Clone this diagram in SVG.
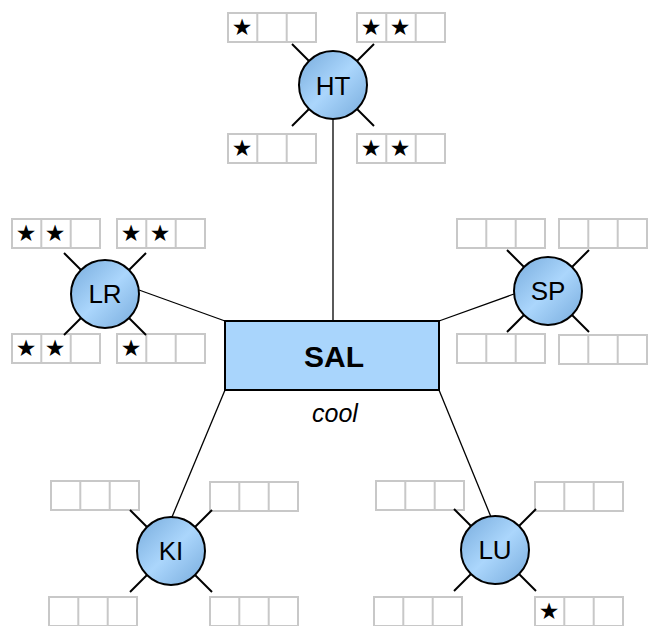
<svg xmlns="http://www.w3.org/2000/svg" xmlns:xlink="http://www.w3.org/1999/xlink" width="652" height="626" viewBox="0 0 652 626">
<style>
.box{fill:#fff;stroke:#c8c8c8;stroke-width:2}
.div{stroke:#c8c8c8;stroke-width:2}
.star{font-family:"DejaVu Sans",sans-serif;font-size:23px;fill:#000;text-anchor:middle}
.node{fill:url(#ng);stroke:#000;stroke-width:2}
.spoke{stroke:#000;stroke-width:2}
.lbl{font-family:"Liberation Sans",Arial,sans-serif;font-size:26px;fill:#000;text-anchor:middle}
.conn{stroke:#000;stroke-width:1.3;fill:none}
</style>
<defs>
<linearGradient id="ng" x1="0" y1="0" x2="1" y2="1">
<stop offset="0" stop-color="#77abdc"/>
<stop offset="0.5" stop-color="#abd6fc"/>
<stop offset="1" stop-color="#77abdc"/>
</linearGradient>
<g id="spk">
<line class="spoke" x1="-24" y1="-24" x2="-41" y2="-41"/>
<line class="spoke" x1="24" y1="-24" x2="41" y2="-41"/>
<line class="spoke" x1="-24" y1="24" x2="-41" y2="41"/>
<line class="spoke" x1="24" y1="24" x2="41" y2="41"/>
</g>
<g id="cells">
<rect class="box" x="0" y="0" width="88" height="29"/>
<line class="div" x1="29.3" y1="0" x2="29.3" y2="29"/>
<line class="div" x1="58.7" y1="0" x2="58.7" y2="29"/>
</g>
</defs>
<rect width="652" height="626" fill="#fff"/>
<g id="connectors">
<line class="conn" x1="333" y1="118" x2="333" y2="321"/>
<line class="conn" x1="139" y1="290" x2="225" y2="321"/>
<line class="conn" x1="514" y1="294" x2="439" y2="321"/>
<line class="conn" x1="172" y1="517" x2="225" y2="390"/>
<line class="conn" x1="491" y1="517" x2="439" y2="390"/>
</g>
<g id="SAL">
<rect x="225" y="321" width="214" height="69" fill="#a9d5fc" stroke="#000" stroke-width="2"/>
<text x="334" y="367" font-family="Liberation Sans,Arial,sans-serif" font-size="30" font-weight="bold" text-anchor="middle">SAL</text>
<text x="335" y="422" font-family="Liberation Sans,Arial,sans-serif" font-size="25" font-style="italic" text-anchor="middle">cool</text>
</g>
<g id="HT">
<use xlink:href="#cells" x="228" y="13"/><text class="star" x="242" y="35">★</text>
<use xlink:href="#cells" x="357" y="13"/><text class="star" x="371" y="35">★</text><text class="star" x="400" y="35">★</text>
<use xlink:href="#cells" x="228" y="134"/><text class="star" x="242" y="156">★</text>
<use xlink:href="#cells" x="357" y="134"/><text class="star" x="371" y="156">★</text><text class="star" x="400" y="156">★</text>
<use xlink:href="#spk" x="333" y="85"/>
<circle class="node" cx="333" cy="85" r="34"/>
<text class="lbl" x="333" y="95">HT</text>
</g>
<g id="LR">
<use xlink:href="#cells" x="12" y="219"/><text class="star" x="26" y="241">★</text><text class="star" x="55" y="241">★</text>
<use xlink:href="#cells" x="117" y="219"/><text class="star" x="131" y="241">★</text><text class="star" x="160" y="241">★</text>
<use xlink:href="#cells" x="12" y="334"/><text class="star" x="26" y="356">★</text><text class="star" x="55" y="356">★</text>
<use xlink:href="#cells" x="117" y="334"/><text class="star" x="131" y="356">★</text>
<use xlink:href="#spk" x="105" y="294"/>
<circle class="node" cx="105" cy="294" r="34"/>
<text class="lbl" x="105" y="303">LR</text>
</g>
<g id="SP">
<use xlink:href="#cells" x="457" y="219"/>
<use xlink:href="#cells" x="559" y="219"/>
<use xlink:href="#cells" x="457" y="334"/>
<use xlink:href="#cells" x="559" y="335"/>
<use xlink:href="#spk" x="548" y="291"/>
<circle class="node" cx="548" cy="291" r="34"/>
<text class="lbl" x="548" y="300">SP</text>
</g>
<g id="KI">
<use xlink:href="#cells" x="51" y="481"/>
<use xlink:href="#cells" x="210" y="482"/>
<use xlink:href="#cells" x="49" y="597"/>
<use xlink:href="#cells" x="210" y="597"/>
<use xlink:href="#spk" x="171" y="551"/>
<circle class="node" cx="171" cy="551" r="34"/>
<text class="lbl" x="171" y="560">KI</text>
</g>
<g id="LU">
<use xlink:href="#cells" x="376" y="481"/>
<use xlink:href="#cells" x="535" y="482"/>
<use xlink:href="#cells" x="374" y="597"/>
<use xlink:href="#cells" x="535" y="597"/><text class="star" x="549" y="619">★</text>
<use xlink:href="#spk" x="495" y="550"/>
<circle class="node" cx="495" cy="550" r="34"/>
<text class="lbl" x="495" y="559">LU</text>
</g>
</svg>
